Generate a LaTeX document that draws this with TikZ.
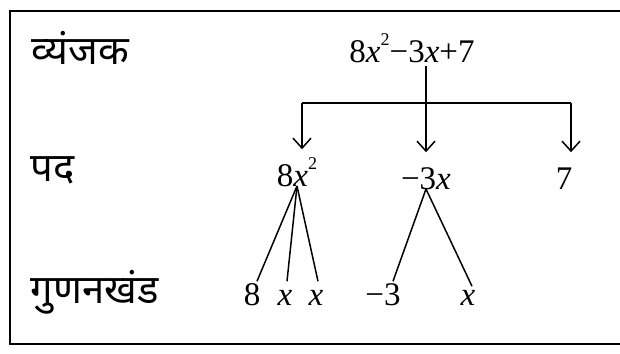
\documentclass[tikz,border=0pt]{standalone}
\usepackage{fontspec}
\setmainfont{Liberation Serif}
\newfontfamily\deva[Script=Devanagari]{Noto Sans}
\usetikzlibrary{arrows.meta}
\newcommand{\sqr}{\raisebox{0.5em}{\fontsize{18}{20}\selectfont 2}}
\begin{document}
\begin{tikzpicture}[x=1pt,y=-1pt,line width=1.5pt,
  lbl/.style={font=\deva\fontsize{40}{46}\selectfont, anchor=west, inner sep=0pt},
  term/.style={font=\fontsize{33}{38}\selectfont, anchor=base, inner sep=0pt, text height=36pt, text depth=0pt},
  fac/.style={font=\fontsize{33}{38}\selectfont, anchor=base, inner sep=0pt, text height=23pt, text depth=0pt},
  arr/.style={-{Straight Barb[length=10pt,width=18pt]}}]
\useasboundingbox (0,0) rectangle (620,353);
% frame
\draw[line width=1.6pt] (620,11) -- (10,11) -- (10,344) -- (620,344);
% row labels
\node[lbl] (l1) at (31,48) {व्यंजक};
\node[lbl] (l2) at (30,170) {पद};
\node[lbl] (l3) at (30,292) {गुणनखंड};
% expression
\node[term, text height=24pt, text depth=3pt] (expr) at (412,62) {8\textit{x}\sqr−3\textit{x}+7};
% terms
\node[term] (t1) at (297,186) {8\textit{x}\sqr};
\node[term] (t2) at (426,189) {−3\textit{x}};
\node[term] (t3) at (564,189) {7};
% factors
\node[fac] (f1) at (252,305) {8};
\node[fac] (f2) at (285,305) {\textit{x}};
\node[fac] (f3) at (316,305) {\textit{x}};
\node[fac] (f4) at (383,305) {−3};
\node[fac] (f5) at (468,305) {\textit{x}};
% arrows
\coordinate (bar) at (0,103);
\coordinate (a1) at ([xshift=5pt]t1.north);
\coordinate (a3) at ([xshift=7pt]t3.north);
\draw (a1 |- bar) -- (a3 |- bar);
\draw[arr] (a1 |- bar) -- (a1);
\draw[arr] (a3 |- bar) -- (a3);
\draw[arr] (t2.north |- expr.south) -- (t2.north);
% factor lines
\draw (t1.base) -- ([xshift=5pt]f1.north);
\draw (t1.base) -- ([xshift=2pt]f2.north);
\draw (t1.base) -- ([xshift=2pt]f3.north);
\draw (t2.base) -- ([xshift=10pt]f4.north);
\draw (t2.base) -- ([xshift=4pt,yshift=-5pt]f5.north);
\end{tikzpicture}
\end{document}
